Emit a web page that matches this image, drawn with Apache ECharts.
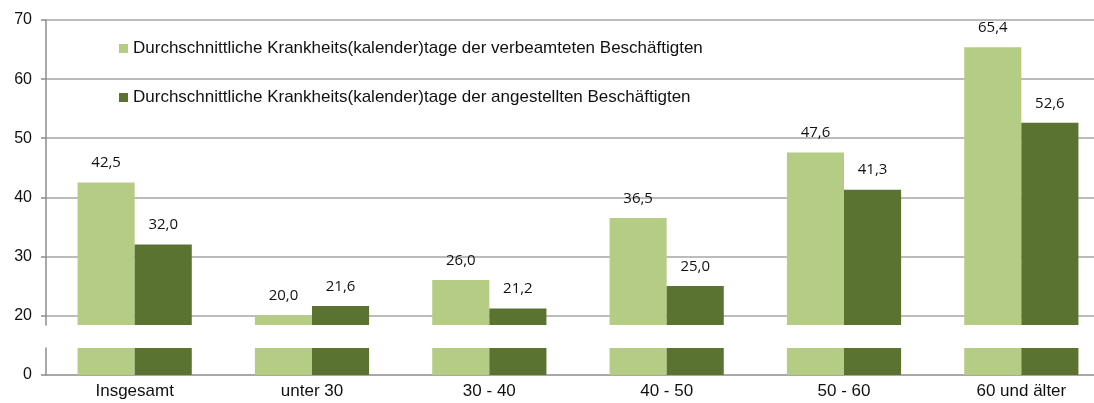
<!DOCTYPE html>
<html>
<head>
<meta charset="utf-8">
<script src="https://cdn.jsdelivr.net/npm/echarts@6/dist/echarts.min.js"></script>
<style>
  html, body { margin: 0; padding: 0; background: #fff; }
  #main { width: 1094px; height: 403px; }
</style>
</head>
<body>
<div id="main"></div>
<script>
  // Kategorien und Werte
  const categories = ['Insgesamt', 'unter 30', '30 - 40', '40 - 50', '50 - 60', '60 und älter'];
  const beamte = [42.5, 20.0, 26.0, 36.5, 47.6, 65.4];
  const angestellte = [32.0, 21.6, 21.2, 25.0, 41.3, 52.6];
  const upperTicks = [20, 30, 40, 50, 60, 70];
  const lowerTicks = [0];

  const nameB = 'Durchschnittliche Krankheits(kalender)tage der verbeamteten Beschäftigten';
  const nameA = 'Durchschnittliche Krankheits(kalender)tage der angestellten Beschäftigten';
  const light = '#b4cc84';
  const dark = '#5a7331';
  const axisGray = '#8c8c8c';
  const font = 'Liberation Sans, Arial, sans-serif';

  let myChart = echarts.init(document.getElementById('main'));

  const fmt = p => p.value.toFixed(1).replace('.', ',');
  const barLabel = { show: true, position: 'top', distance: 12, formatter: fmt,
    fontFamily: 'Open Sans, sans-serif', fontSize: 15, color: '#111' };

  let option = {
    animation: false,
    legend: {
      orient: 'vertical',
      left: 114,
      top: 35,
      itemWidth: 9,
      itemHeight: 9,
      itemGap: 32,
      icon: 'rect',
      data: [nameB, nameA],
      textStyle: { fontFamily: font, fontSize: 17, color: '#111' }
    },
    // rechts abgeschnitten wie im Original
    grid: [
      { left: 46, width: 1064, top: 20, bottom: 78, outerBoundsMode: 'none' },
      { left: 46, width: 1064, top: 348, bottom: 28, outerBoundsMode: 'none' }
    ],
    xAxis: [
      { gridIndex: 0, type: 'category', data: categories, show: false },
      {
        gridIndex: 1, type: 'category', data: categories,
        axisLine: { lineStyle: { color: axisGray, width: 1.5 } },
        axisTick: { length: 5, lineStyle: { color: axisGray, width: 1.5 } },
        axisLabel: { fontFamily: font, fontSize: 17, color: '#111', margin: 8 }
      }
    ],
    yAxis: [
      {
        gridIndex: 0, type: 'value', min: 18.4, max: 70,
        axisLine: { show: true, lineStyle: { color: axisGray, width: 1.5 } },
        axisTick: { show: true, length: 5, customValues: upperTicks, lineStyle: { color: axisGray, width: 1.5 } },
        axisLabel: { customValues: upperTicks, fontFamily: font, fontSize: 16, color: '#111', margin: 14 },
        splitLine: { lineStyle: { color: '#a6a6a6', width: 1.5 } }
      },
      {
        gridIndex: 1, type: 'value', min: 0, max: 4.6,
        axisLine: { show: true, lineStyle: { color: axisGray, width: 1.5 } },
        axisTick: { show: true, length: 5, customValues: lowerTicks, lineStyle: { color: axisGray, width: 1.5 } },
        axisLabel: { customValues: lowerTicks, fontFamily: font, fontSize: 16, color: '#111', margin: 14 },
        splitLine: { show: false }
      }
    ],
    series: [
      {
        name: nameB, type: 'bar', xAxisIndex: 0, yAxisIndex: 0, data: beamte,
        barGap: 0, barCategoryGap: '35.6%',
        itemStyle: { color: light },
        label: barLabel
      },
      {
        name: nameA, type: 'bar', xAxisIndex: 0, yAxisIndex: 0, data: angestellte,
        barGap: 0, barCategoryGap: '35.6%',
        itemStyle: { color: dark },
        label: barLabel
      },
      {
        name: nameB, type: 'bar', xAxisIndex: 1, yAxisIndex: 1, data: beamte,
        barGap: 0, barCategoryGap: '35.6%', clip: true,
        itemStyle: { color: light }
      },
      {
        name: nameA, type: 'bar', xAxisIndex: 1, yAxisIndex: 1, data: angestellte,
        barGap: 0, barCategoryGap: '35.6%', clip: true,
        itemStyle: { color: dark }
      }
    ]
  };
  myChart.setOption(option);
</script>
</body>
</html>
